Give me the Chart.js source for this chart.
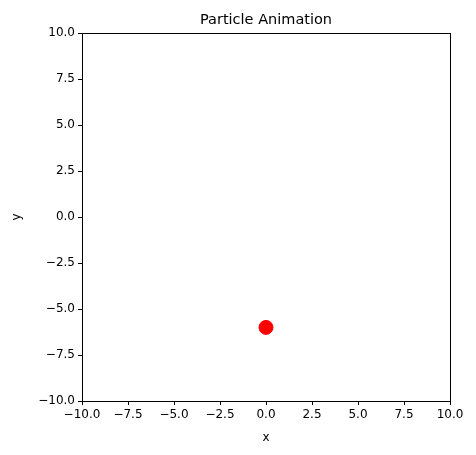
<!DOCTYPE html>
<html><head><meta charset="utf-8">
<script src="https://cdn.jsdelivr.net/npm/chart.js@4"></script>
<style>html,body{margin:0;padding:0;background:#fff}#w{width:476px;height:455px}</style>
</head><body><div id="w"><canvas id="c"></canvas></div>
<script>
const xValues = [0];
const yValues = [-6];
const tickValues = [-10, -7.5, -5, -2.5, 0, 2.5, 5, 7.5, 10];
const titleText = 'Particle Animation';
const fmt = v => (v < 0 ? '\u2212' : '') + Math.abs(v).toFixed(1);
const font = {family: 'DejaVu Sans', size: 12};
const frame = {
  id: 'frame',
  afterDraw(ch) {
    const a = ch.chartArea, c = ch.ctx;
    c.save(); c.strokeStyle = '#000'; c.lineWidth = 1;
    c.strokeRect(Math.round(a.left)+0.5, Math.round(a.top)+0.5, Math.round(a.right-a.left), Math.round(a.bottom-a.top));
    c.fillStyle = '#000'; c.font = '14.5px "DejaVu Sans"'; c.textAlign = 'center'; c.textBaseline = 'bottom';
    c.fillText(titleText, (a.left + a.right) / 2, a.top - 6);
    c.restore();
  }
};
const axis = (title, isX) => ({
  type: 'linear', min: -10, max: 10,
  afterBuildTicks: s => { s.ticks = tickValues.map(v => ({value: v})); },
  afterFit: s => { if (isX) s.height = 48; else s.width = 74; },
  grid: {drawOnChartArea: false, drawTicks: true, tickLength: 4, color: '#000'},
  border: {color: '#000'},
  ticks: {callback: fmt, color: '#000', font, padding: 3},
  title: {display: true, text: title, color: '#000', font, padding: {top: 2, bottom: 4}}
});
new Chart(document.getElementById('c'), {
  type: 'scatter',
  data: {datasets: [{data: xValues.map((x, i) => ({x, y: yValues[i]})), backgroundColor: '#ff0000', borderColor: '#ff0000', pointRadius: 7}]},
  options: {
    responsive: true, maintainAspectRatio: false, animation: false,
    layout: {padding: {top: 33, right: 26, left: 8, bottom: 6}},
    plugins: {legend: {display: false}, tooltip: {enabled: false}},
    scales: {x: axis('x', true), y: axis('y', false)}
  },
  plugins: [frame]
});
</script></body></html>
